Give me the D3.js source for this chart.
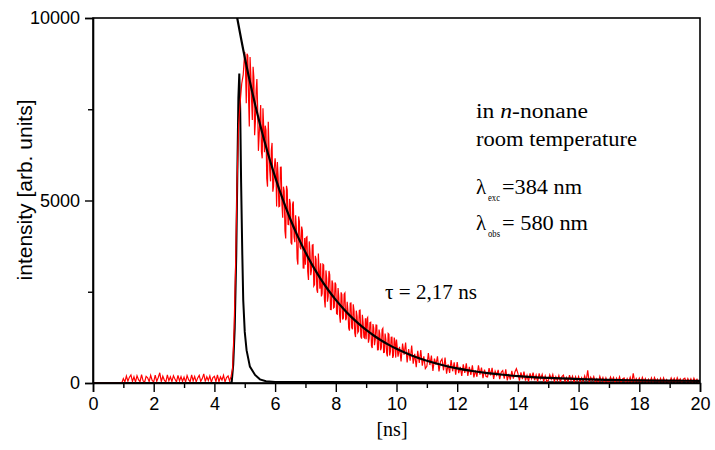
<!DOCTYPE html>
<html><head><meta charset="utf-8">
<script src="https://cdn.jsdelivr.net/npm/d3@7"></script>
<style>body{margin:0;background:#fff}svg{display:block}</style>
</head><body><svg id="c" width="715" height="450"></svg>
<script>
// ---- data ----
const xTickValues = [0,2,4,6,8,10,12,14,16,18,20];
const xMinorTicks = [1,3,5,7,9,11,13,15,17,19];
const yTickValues = [0,5000,10000];
const yMinorTicks = [2500,7500];

// measured emission decay (red)
const redLeadTimes = [0, 0.95];
const redLeadValues = [0, 0];
// 1.00 .. 4.95 ns, every 0.05 ns
const redA = [
 120,30,190,50,160,220,40,170,25,200,90,35,230,60,20,180,140,40,210,70,
 30,215,45,150,280,35,185,80,25,220,60,170,40,200,110,30,210,55,175,40,
 160,25,205,90,35,225,60,180,30,140,210,45,120,250,40,170,70,195,25,150,
 185,40,220,35,165,80,210,30,150,195,55,180,
 400,1500,3300,5600,7100,7700,8200,8450
];
// 5.000 .. 9.975 ns, every 0.025 ns
const redB = [
 9071,8619,7668,9019,8970,7823,7027,8932,8438,7747,7206,8665,8375,6787,7150,8013,8327,7543,6360,6777,
 7245,7614,6334,6155,7527,7000,6324,7049,6924,5601,5379,7157,6405,5815,5525,6376,6578,5241,5395,5910,
 6156,5881,4837,6054,5647,4830,4844,5909,5914,4892,4526,5378,5260,4164,3958,5403,5294,4346,4338,5043,
 4919,3843,3797,4892,4973,3994,3856,4598,4271,3405,3245,4564,4429,3724,3660,4287,4169,3152,3150,3970,
 3239,3988,4007,3057,2823,3879,3596,2953,3095,3780,3790,2658,2697,3486,3391,2566,2472,3548,3085,2584,
 3278,2371,2449,3257,3236,2295,2070,3085,2860,2226,2378,3069,2967,2013,2010,2808,2721,2054,2073,2752,
 2701,1901,1886,2601,2346,1851,1651,2483,2420,1737,1779,2431,2465,1717,1775,2223,1986,1500,1434,2188,
 2192,1518,1472,2158,1993,1369,1258,1981,1832,1384,1422,1988,1998,1272,1215,1868,1657,1254,1232,1771,
 1199,1758,1796,1106,1221,1655,1666,1015,956,1616,1506,1037,1188,1589,1585,911,912,1464,1344,898,
 961,1462,1497,837,843,1353,1193,819,727,1355,1333,752,868,1250,1254,688,756,1246,1126,696
];
// 10.00 .. 20.00 ns, every 0.05 ns
const redC = [
 1192,724,992,588,1081,775,1109,563,930,609,1026,530,802,434,883,549,902,472,730,397,
 458,820,492,750,333,666,504,733,317,591,658,348,698,253,513,279,630,321,568,230,
 570,268,442,197,511,280,539,196,441,225,483,155,345,171,487,229,420,134,367,180,
 168,410,210,413,109,326,217,359,104,295,343,118,374,71,250,90,334,122,301,393,
 262,67,292,109,310,67,208,38,263,117,282,76,217,35,261,115,233,39,193,47,
 68,226,104,233,41,170,68,206,25,173,212,40,149,27,216,75,183,12,170,59,
 176,25,144,43,192,51,350,9,158,67,176,25,114,13,182,51,150,0,138,27,
 25,164,64,153,3,132,42,166,10,110,139,4,118,28,157,0,266,16,125,35,
 134,14,153,33,122,2,102,21,141,10,150,40,109,0,128,18,138,7,97,27,
 16,136,36,125,5,145,44,114,0,103,133,13,123,22,112,2,132,31,101,11,81
];

// instrument response (black pulse)
const irfTimes  = [0,4.5,4.57,4.62,4.67,4.72,4.76,4.79,4.82,4.85,4.88,4.92,4.95,5.0,5.06,5.17,5.34,5.5,5.7,6.0,7.0,20];
const irfValues = [0,0,20,500,1500,3500,6000,7800,8480,7500,5500,3500,2270,1400,900,450,220,100,50,30,25,20];

// fitted decay, tau = 2.17 ns (black)
const fitTimes  = [4.72,5.0,5.25,5.5,5.75,6.0,6.25,6.5,6.75,7.0,7.25,7.5,7.75,8.0,8.25,8.5,8.75,9.0,9.25,9.5,9.75,10,10.5,11,11.5,12,12.5,13,13.5,14,15,16,17,18,19,20];
const fitValues = [10142,8921,7956,7095,6329,5646,5036,4494,4010,3579,3195,2853,2548,2276,2034,1818,1626,1454,1302,1165,1044,936,754,608,493,402,329,272,226,190,138,106,85,72,64,59];

// ---- chart ----
const svg = d3.select('#c');
const L=93, R=700, T=18, B=383;
const x = d3.scaleLinear().domain([0,20]).range([L,R]);
const y = d3.scaleLinear().domain([0,10000]).range([B,T]);

svg.append('defs').append('clipPath').attr('id','clip')
  .append('rect').attr('x',L).attr('y',T).attr('width',R-L).attr('height',B-T+1);

const seg = (vals, t0, dt) => vals.map((v,i)=>[+(t0+i*dt).toFixed(3), v]);
const red = redLeadTimes.map((t,i)=>[t,redLeadValues[i]])
  .concat(seg(redA,1.0,0.05), seg(redB,5.0,0.025), seg(redC,10.0,0.05));
const irf = irfTimes.map((t,i)=>[t,irfValues[i]]);
const fit = fitTimes.map((t,i)=>[t,fitValues[i]]);

const line = d3.line().x(d=>x(d[0])).y(d=>y(d[1]));
const smooth = d3.line().x(d=>x(d[0])).y(d=>y(d[1])).curve(d3.curveMonotoneX);

const g = svg.append('g').attr('clip-path','url(#clip)');
g.append('path').datum(irf).attr('d',line).attr('fill','none').attr('stroke','#000').attr('stroke-width',2);
g.append('path').datum(red).attr('d',line).attr('fill','none').attr('stroke','#ff0000').attr('stroke-width',1.2);
g.append('path').datum(fit).attr('d',smooth).attr('fill','none').attr('stroke','#000').attr('stroke-width',2.2);

// frame
svg.append('rect').attr('x',L).attr('y',T).attr('width',R-L).attr('height',B-T)
  .attr('fill','none').attr('stroke','#000').attr('stroke-width',1.6);

// axes
svg.append('g').attr('transform',`translate(0,${B})`)
  .call(d3.axisBottom(x).tickValues(xTickValues).tickSize(9).tickPadding(5).tickFormat(d3.format('d')));
svg.append('g').attr('transform',`translate(0,${B})`)
  .call(d3.axisBottom(x).tickValues(xMinorTicks).tickSize(5).tickFormat(''))
  .call(s=>s.select('.domain').remove());
svg.append('g').attr('transform',`translate(${L},0)`)
  .call(d3.axisLeft(y).tickValues(yTickValues).tickSize(8).tickPadding(5).tickFormat(d3.format('d')));
svg.append('g').attr('transform',`translate(${L},0)`)
  .call(d3.axisLeft(y).tickValues(yMinorTicks).tickSize(5).tickFormat(''))
  .call(s=>s.select('.domain').remove());
svg.selectAll('.domain').attr('stroke-width',1.6);
svg.selectAll('.tick line').attr('stroke-width',1.4);
svg.selectAll('.tick text').attr('font-family','"Liberation Sans", Arial, sans-serif')
  .attr('font-size',18).attr('fill','#000');

// axis titles
svg.append('text').attr('x',392).attr('y',436).attr('text-anchor','middle')
  .attr('font-family','"Liberation Serif", "Times New Roman", serif').attr('font-size',20).text('[ns]');
svg.append('text').attr('transform','translate(32,190) rotate(-90)').attr('text-anchor','middle')
  .attr('font-family','"Liberation Sans", Arial, sans-serif').attr('font-size',21).text('intensity  [arb. units]');

// annotations
const serif = '"Liberation Serif", "Times New Roman", serif';
const t1 = svg.append('text').attr('x',476).attr('y',118).attr('font-family',serif).attr('font-size',20)
  .attr('textLength',112).attr('lengthAdjust','spacingAndGlyphs');
t1.append('tspan').text('in ');
t1.append('tspan').attr('font-style','italic').text('n');
t1.append('tspan').text('-nonane');
svg.append('text').attr('x',476).attr('y',146).attr('font-family',serif).attr('font-size',20)
  .attr('textLength',161).attr('lengthAdjust','spacingAndGlyphs').text('room temperature');

svg.append('text').attr('x',476).attr('y',194).attr('font-family',serif).attr('font-size',21).text('λ');
svg.append('text').attr('x',488).attr('y',201).attr('font-family',serif).attr('font-size',10)
  .attr('textLength',12).attr('lengthAdjust','spacingAndGlyphs').text('exc');
svg.append('text').attr('x',502).attr('y',194).attr('font-family',serif).attr('font-size',20)
  .attr('textLength',80).attr('lengthAdjust','spacingAndGlyphs').text('=384 nm');

svg.append('text').attr('x',476).attr('y',230).attr('font-family',serif).attr('font-size',21).text('λ');
svg.append('text').attr('x',488).attr('y',237).attr('font-family',serif).attr('font-size',10)
  .attr('textLength',12).attr('lengthAdjust','spacingAndGlyphs').text('obs');
svg.append('text').attr('x',502).attr('y',230).attr('font-family',serif).attr('font-size',20)
  .attr('textLength',86).attr('lengthAdjust','spacingAndGlyphs').text('= 580 nm');

svg.append('text').attr('x',385).attr('y',299).attr('font-family',serif).attr('font-size',20)
  .attr('textLength',92).attr('lengthAdjust','spacingAndGlyphs').text('τ = 2,17 ns');
</script></body></html>
